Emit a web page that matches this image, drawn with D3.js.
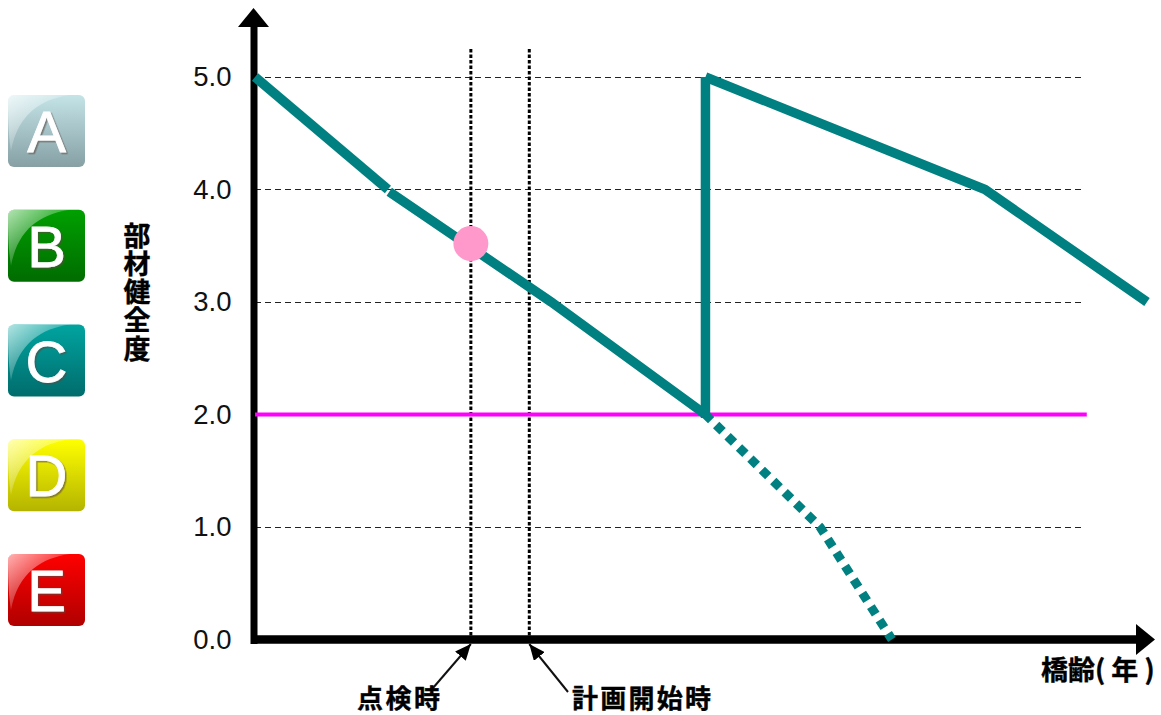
<!DOCTYPE html>
<html>
<head>
<meta charset="utf-8">
<script src="https://cdn.jsdelivr.net/npm/d3@7"></script>
<style>
  html, body { margin: 0; padding: 0; background: #fff; }
  svg { display: block; }
  .tick text { font-family: "Liberation Sans", Arial, sans-serif; font-size: 27.5px; fill: #111; }
  .jp { font-family: "Noto Sans CJK JP", sans-serif; font-weight: 700; font-size: 27px; fill: #000; stroke: #000; stroke-width: 0.4px; }
</style>
</head>
<body>
<svg id="chart"></svg>
<script>
// data (age is in arbitrary years, the axis has no numbers)
const ratings = ["A", "B", "C", "D", "E"];
const ratingTop = ["#c4e4e8", "#00a000", "#00a4a0", "#ffff00", "#ff0000"];
const ratingBottom = ["#86a0a4", "#006c00", "#006c6c", "#b4b400", "#b00000"];
const healthTicks = [0, 1, 2, 3, 4, 5];
const gridValues = [1, 3, 4, 5];
const limitValue = 2;
const gridEndAge = 185.5;
const limitEndAge = 186.5;
const inspectAge = 48.4;
const planAge = 61.5;
const inspectHealth = 3.52;
const segment1 = [[0, 5], [29.8, 4]];
const segment2 = [[30.1, 3.98], [66.4, 3], [101, 2]];
const repairLine = [[101, 1.97], [101, 5]];
const segment3 = [[101, 5], [163.7, 4], [200, 3]];
const dottedLine = [[101, 2], [126.7, 1], [142.8, 0]];

// constants
const width = 1161;
const height = 715;
const x0 = 255;
const teal = "#008080";

const svg = d3.select("svg#chart").attr("width", width).attr("height", height);

const xScale = d3.scaleLinear().domain([0, 200]).range([x0, 1147]);
const yScale = d3.scaleLinear().domain([0, 5]).range([639.5, 77]);
const line = d3.line().x(d => xScale(d[0])).y(d => yScale(d[1]));

// rating buttons
const defs = svg.append("defs");
ratings.forEach((r, i) => {
  const g = defs.append("linearGradient").attr("id", "grad" + r)
    .attr("x1", 0).attr("y1", 0).attr("x2", 0).attr("y2", 1);
  g.append("stop").attr("offset", "0%").attr("stop-color", ratingTop[i]);
  g.append("stop").attr("offset", "100%").attr("stop-color", ratingBottom[i]);
});
const gloss = defs.append("linearGradient").attr("id", "gloss")
  .attr("x1", 0).attr("y1", 0).attr("x2", 1).attr("y2", 1);
gloss.append("stop").attr("offset", "0%").attr("stop-color", "#fff").attr("stop-opacity", 0.7);
gloss.append("stop").attr("offset", "70%").attr("stop-color", "#fff").attr("stop-opacity", 0);
const shadow = defs.append("filter").attr("id", "shadow");
shadow.append("feDropShadow").attr("dx", 1.5).attr("dy", 1.5).attr("stdDeviation", 0.6)
  .attr("flood-color", "#5a4a40").attr("flood-opacity", 0.6);

const buttonY = d3.scalePoint().domain(ratings).range([95, 554]);
const buttons = svg.selectAll("g.button").data(ratings).enter().append("g")
  .attr("class", "button")
  .attr("transform", d => "translate(8," + buttonY(d) + ")");
buttons.append("rect").attr("width", 77).attr("height", 72).attr("rx", 6)
  .attr("fill", d => "url(#grad" + d + ")");
buttons.append("path").attr("d", "M6 0H62C34 4 10 18 3 56C1 44 0 30 0 6C0 2 2 0 6 0Z")
  .attr("fill", "url(#gloss)");
buttons.append("text").attr("x", 38.5).attr("y", 57).attr("text-anchor", "middle")
  .attr("font-family", "Liberation Sans, Arial, sans-serif").attr("font-size", 58)
  .attr("fill", "#fff").attr("stroke", "#fff").attr("stroke-width", 0.8)
  .attr("filter", "url(#shadow)").text(d => d);

// dashed grid
svg.selectAll("line.grid").data(gridValues).enter().append("line")
  .attr("class", "grid")
  .attr("x1", xScale(0)).attr("x2", xScale(gridEndAge))
  .attr("y1", d => yScale(d)).attr("y2", d => yScale(d))
  .attr("stroke", "#222").attr("stroke-width", 1).attr("stroke-dasharray", "6 4")
  .attr("shape-rendering", "crispEdges");

// y axis labels
const yAxis = d3.axisLeft(yScale).tickValues(healthTicks).tickSize(0).tickPadding(23.5)
  .tickFormat(d3.format(".1f"));
svg.append("g").attr("transform", "translate(" + x0 + ",0)").call(yAxis)
  .call(g => g.select(".domain").remove());

// vertical marker lines
svg.selectAll("line.marker").data([inspectAge, planAge]).enter().append("line")
  .attr("class", "marker")
  .attr("x1", d => xScale(d)).attr("x2", d => xScale(d))
  .attr("y1", 49).attr("y2", 636)
  .attr("stroke", "#000").attr("stroke-width", 3).attr("stroke-dasharray", "3.5 2");

// main axes
svg.append("line").attr("x1", 254).attr("x2", 254).attr("y1", 24).attr("y2", 644)
  .attr("stroke", "#000").attr("stroke-width", 7);
svg.append("line").attr("x1", 251).attr("x2", 1138).attr("y1", 639.5).attr("y2", 639.5)
  .attr("stroke", "#000").attr("stroke-width", 8.5);
svg.append("path").attr("d", "M253.5 8L269 27H238Z").attr("fill", "#000");
svg.append("path").attr("d", "M1155 639.5L1136 624V655Z").attr("fill", "#000");

// limit line
svg.append("line")
  .attr("x1", xScale(0)).attr("x2", xScale(limitEndAge))
  .attr("y1", yScale(limitValue)).attr("y2", yScale(limitValue))
  .attr("stroke", "#ff00ff").attr("stroke-width", 4);

// health curve
[segment1, segment2, repairLine, segment3].forEach(seg => {
  svg.append("path").attr("d", line(seg)).attr("fill", "none")
    .attr("stroke", teal).attr("stroke-width", 9.5).attr("stroke-linejoin", "miter");
});
svg.append("path").attr("d", line(dottedLine)).attr("fill", "none")
  .attr("stroke", teal).attr("stroke-width", 9).attr("stroke-dasharray", "9 7")
  .attr("stroke-dashoffset", -15);

svg.append("circle").attr("cx", xScale(inspectAge)).attr("cy", yScale(inspectHealth))
  .attr("r", 17.5).attr("fill", "#ff99cc");

// pointer arrows
const arrowHead = defs.append("marker").attr("id", "head").attr("markerUnits", "userSpaceOnUse")
  .attr("viewBox", "0 0 16 14").attr("refX", 16).attr("refY", 7)
  .attr("markerWidth", 16).attr("markerHeight", 14).attr("orient", "auto");
arrowHead.append("path").attr("d", "M0 0L16 7L0 14Z").attr("fill", "#000");
svg.append("line").attr("x1", 433).attr("y1", 688).attr("x2", xScale(inspectAge)).attr("y2", 644)
  .attr("stroke", "#111").attr("stroke-width", 2).attr("marker-end", "url(#head)");
svg.append("line").attr("x1", 568).attr("y1", 692).attr("x2", xScale(planAge)).attr("y2", 644)
  .attr("stroke", "#111").attr("stroke-width", 2).attr("marker-end", "url(#head)");

// labels
svg.append("text").attr("class", "jp").attr("x", 357).attr("y", 707.5).style("font-size", "26px")
  .attr("textLength", 83).text("点検時");
svg.append("text").attr("class", "jp").attr("x", 572).attr("y", 707.5).style("font-size", "26px")
  .attr("textLength", 139).text("計画開始時");
svg.append("text").attr("class", "jp").attr("x", 1041).attr("y", 680).text("橋齢( 年 )");

svg.append("text").attr("class", "jp")
  .attr("x", 137).attr("y", 222)
  .style("writing-mode", "vertical-rl").style("letter-spacing", "1.2px")
  .text("部材健全度");
</script>
</body>
</html>
